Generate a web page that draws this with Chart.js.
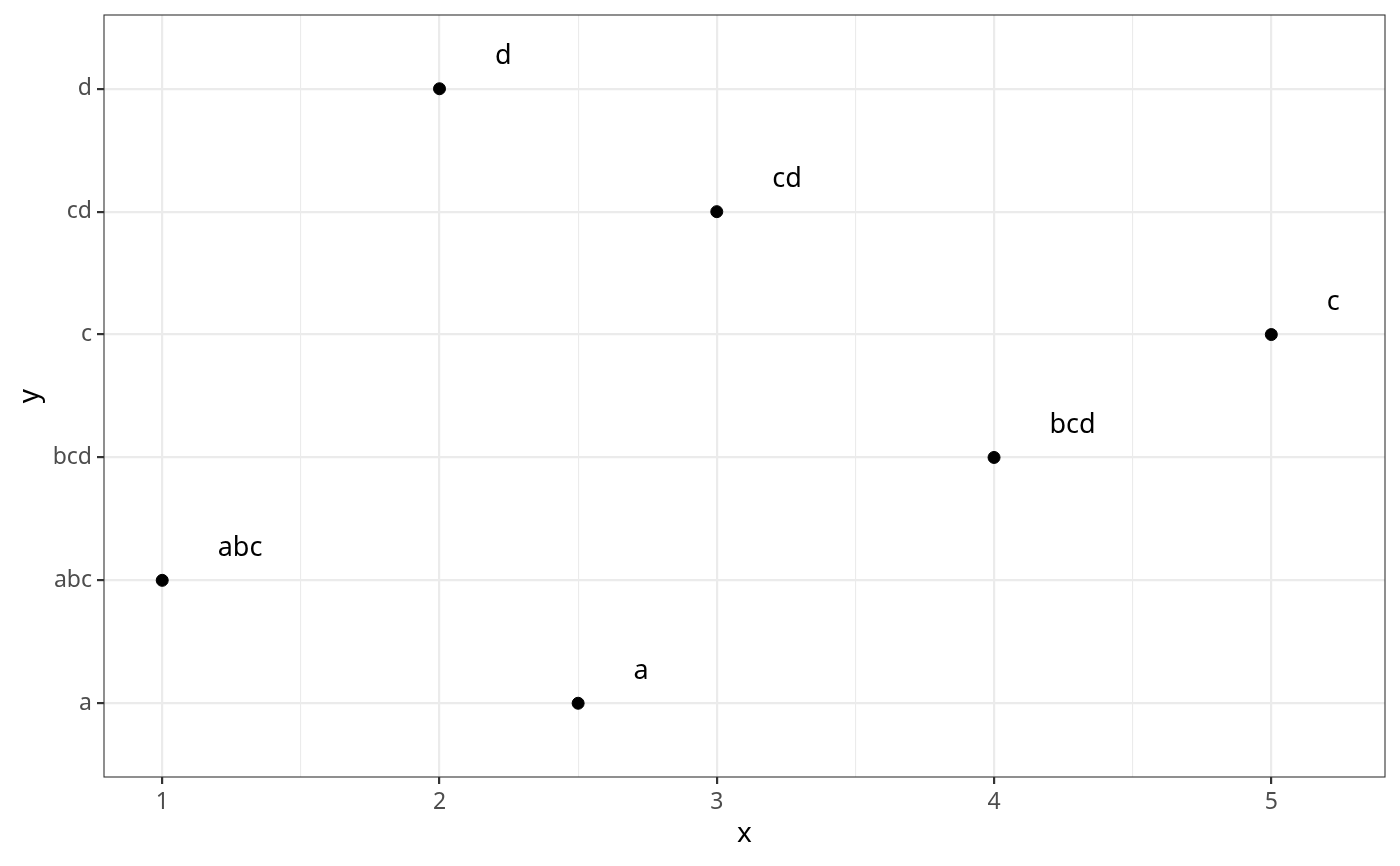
<!DOCTYPE html>
<html>
<head>
<meta charset="utf-8">
<script src="https://cdn.jsdelivr.net/npm/chart.js@4"></script>
<style>
  html, body { margin: 0; padding: 0; background: #fff; }
  #wrap { width: 1400px; height: 866px; }
</style>
</head>
<body>
<div id="wrap"><canvas id="chart"></canvas></div>
<script>
// categories on the y axis (bottom to top) and the x value of each point
const categories = ["a", "abc", "bcd", "c", "cd", "d"];
const xValues = [2.5, 1, 4, 5, 3, 2];
const xMajorTicks = [1, 2, 3, 4, 5];
const xMinorTicks = [1.5, 2.5, 3.5, 4.5];

const FONT = "'Noto Sans', sans-serif";

const points = categories.map((c, i) => ({ x: xValues[i], y: i + 1, label: c }));

// text labels next to each point + panel border
const labelPlugin = {
  id: "labels",
  afterDatasetsDraw(chart) {
    const { ctx, chartArea, scales } = chart;
    ctx.save();
    ctx.font = "27px " + FONT;
    ctx.fillStyle = "#000";
    ctx.textAlign = "left";
    ctx.textBaseline = "alphabetic";
    points.forEach((p) => {
      const px = scales.x.getPixelForValue(p.x + 0.2);
      const py = scales.y.getPixelForValue(p.y + 0.2);
      ctx.fillText(p.label, px, py);
    });
    ctx.strokeStyle = "#333333";
    ctx.lineWidth = 1.1;
    ctx.strokeRect(chartArea.left, chartArea.top, chartArea.width, chartArea.height);
    ctx.restore();
  },
};

const ctx = document.getElementById("chart").getContext("2d");
new Chart(ctx, {
  type: "scatter",
  data: {
    datasets: [
      {
        data: points,
        backgroundColor: "#000",
        borderColor: "#000",
        pointRadius: 6,
        pointHoverRadius: 6,
      },
    ],
  },
  options: {
    responsive: true,
    maintainAspectRatio: false,
    animation: false,
    layout: { autoPadding: false, padding: { top: 15, right: 15, left: 0, bottom: 0 } },
    plugins: {
      legend: { display: false },
      tooltip: { enabled: false },
    },
    scales: {
      x: {
        type: "linear",
        min: 0.79,
        max: 5.41,
        afterBuildTicks: (scale) => {
          scale.ticks = xMajorTicks.concat(xMinorTicks).sort((a, b) => a - b).map((v) => ({ value: v }));
        },
        afterFit: (scale) => {
          scale.height = 89;
          scale.paddingLeft = 0;
          scale.paddingRight = 0;
        },
        ticks: {
          autoSkip: false,
          maxRotation: 0,
          padding: 5,
          color: "#4D4D4D",
          font: { family: FONT, size: 23 },
          callback: (v) => (xMajorTicks.includes(v) ? String(v) : ""),
        },
        grid: {
          color: "#EBEBEB",
          lineWidth: (c) => (xMajorTicks.includes(c.tick.value) ? 2.2 : 1.1),
          tickColor: (c) => (xMajorTicks.includes(c.tick.value) ? "#333333" : "rgba(0,0,0,0)"),
          tickLength: 7,
          tickWidth: 2.2,
        },
        border: { display: false },
        title: {
          display: true,
          text: "x",
          color: "#000",
          font: { family: FONT, size: 28 },
          padding: { top: 0, bottom: 15 },
        },
      },
      y: {
        type: "linear",
        min: 0.4,
        max: 6.6,
        afterBuildTicks: (scale) => {
          scale.ticks = categories.map((c, i) => ({ value: i + 1 }));
        },
        afterFit: (scale) => {
          scale.width = 104;
          scale.paddingTop = 0;
          scale.paddingBottom = 0;
        },
        ticks: {
          autoSkip: false,
          padding: 5,
          color: "#4D4D4D",
          font: { family: FONT, size: 23 },
          callback: (v) => categories[v - 1],
        },
        grid: {
          color: "#EBEBEB",
          lineWidth: 2.2,
          tickColor: "#333333",
          tickLength: 7,
          tickWidth: 2.2,
        },
        border: { display: false },
        title: {
          display: true,
          text: "y",
          color: "#000",
          font: { family: FONT, size: 28 },
          padding: { top: 13, bottom: 0 },
        },
      },
    },
  },
  plugins: [labelPlugin],
});
</script>
</body>
</html>
